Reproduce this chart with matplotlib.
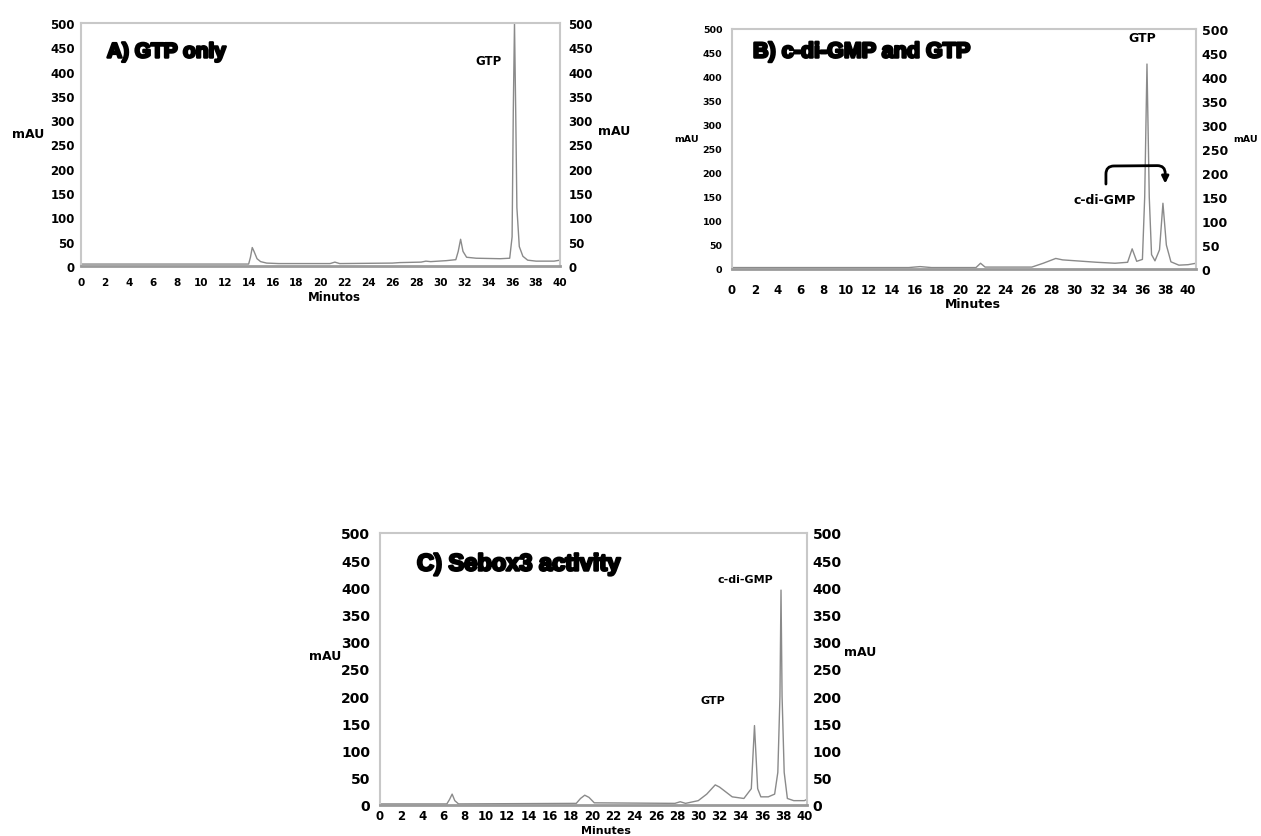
# HPLC traces for the Sebox3 diguanylate cyclase assay (three panels)

import matplotlib.pyplot as plt
import matplotlib.patheffects as pe

# Panel A: GTP only
time_a = [0, 14.0, 14.15, 14.3, 14.45, 14.7, 15.0, 15.5, 16.5, 20.8, 21.2, 21.6,
          26.0, 26.6, 28.4, 28.8, 29.2, 30.5, 31.3, 31.5, 31.7, 31.9, 32.2, 33.0,
          35.0, 35.8, 36.0, 36.1, 36.2, 36.3, 36.4, 36.6, 36.9, 37.3, 38.0, 39.5, 40.0]
mau_a = [4, 4, 18, 38, 30, 15, 9, 6, 5, 5, 8, 5,
         6, 7, 8, 10, 9, 11, 13, 30, 55, 30, 18, 16,
         15, 16, 60, 320, 500, 320, 120, 40, 20, 12, 10, 10, 12]

# Panel B: c-di-GMP and GTP standards
time_b = [0, 15.5, 16.5, 17.5, 21.4, 21.8, 22.2, 26.3, 27.3, 28.4, 29.0, 30.2,
          32.0, 33.6, 34.7, 35.1, 35.5, 36.0, 36.2, 36.4, 36.6, 36.8, 37.1, 37.5,
          37.8, 38.1, 38.5, 39.2, 40.0, 40.7]
mau_b = [3, 3, 5, 3, 3, 12, 4, 4, 12, 22, 19, 17,
         14, 12, 14, 42, 16, 20, 150, 427, 150, 30, 17, 40,
         137, 50, 15, 8, 9, 12]

# Panel C: Sebox3 reaction
time_c = [0, 6.3, 6.55, 6.8, 7.05, 7.4, 18.5, 18.9, 19.3, 19.7, 20.2, 27.8,
          28.3, 28.8, 30.0, 30.8, 31.6, 32.0, 33.2, 34.3, 35.0, 35.3, 35.6, 35.9,
          36.6, 37.2, 37.5, 37.7, 37.8, 37.9, 38.1, 38.4, 39.0, 40.0, 40.2]
mau_c = [2, 2, 10, 20, 8, 2, 3, 12, 18, 14, 4, 3,
         6, 3, 8, 20, 37, 33, 15, 12, 30, 146, 30, 15,
         15, 20, 60, 200, 395, 200, 60, 12, 8, 8, 10]

x_ticks = list(range(0, 41, 2))
y_ticks = list(range(0, 501, 50))

W, H = 1261, 837


def px(x, y):
    return x / W, 1 - y / H


def make_panel(fig, box, t, v, xmax, lsize, rsize, xsize, lpad, rpad, xpad):
    left, top, right, bottom = box
    ax = fig.add_axes([left / W, 1 - bottom / H, (right - left) / W, (bottom - top) / H])
    ax.plot(t, v, color='#8a8a8a', lw=1.0)
    ax.set_xlim(0, xmax)
    ax.set_ylim(0, 500)
    ax.set_xticks(x_ticks)
    ax.set_yticks(y_ticks)
    for s in ax.spines.values():
        s.set_color('#c8c8c8')
        s.set_linewidth(1.5)
    ax.spines['bottom'].set_color('#9a9a9a')
    ax.spines['bottom'].set_linewidth(2)
    ax.tick_params(axis='both', length=0)
    ax.tick_params(axis='y', pad=lpad, labelsize=lsize)
    ax.tick_params(axis='x', pad=xpad, labelsize=xsize)
    for lab in ax.get_yticklabels() + ax.get_xticklabels():
        lab.set_fontweight('bold')

    # right-hand copy of the mAU scale
    ax2 = ax.twinx()
    ax2.set_ylim(0, 500)
    ax2.set_yticks(y_ticks)
    ax2.tick_params(axis='y', length=0, pad=rpad, labelsize=rsize)
    for lab in ax2.get_yticklabels():
        lab.set_fontweight('bold')
    for s in ax2.spines.values():
        s.set_visible(False)
    return ax


fig = plt.figure(figsize=(12.61, 8.37), dpi=100)
plt.rcParams['font.family'] = ['DejaVu Sans']

heavy = [pe.withStroke(linewidth=1.8, foreground='black')]
title_font = ['Liberation Sans', 'DejaVu Sans']

# ---- A) GTP only
ax_a = make_panel(fig, (81, 24, 560, 267), time_a, mau_a, 40, 8.5, 8.5, 7.5, 4.5, 6, 8)
fig.text(*px(107, 53), 'A) GTP only', family=title_font, weight='bold', fontsize=15,
         va='center', ha='left', path_effects=heavy)
ax_a.text(34.0, 422, 'GTP', fontsize=8.5, weight='bold', ha='center', va='center')
fig.text(*px(28, 135), 'mAU', fontsize=9, weight='bold', ha='center', va='center')
fig.text(*px(614, 132), 'mAU', fontsize=9, weight='bold', ha='center', va='center')
fig.text(*px(334, 298), 'Minutos', fontsize=8.5, weight='bold', ha='center', va='center')

# ---- B) c-di-GMP and GTP
ax_b = make_panel(fig, (732, 30, 1196, 270), time_b, mau_b, 40.7, 6.8, 9, 8.5, 7, 4, 10)
fig.text(*px(753, 53), 'B) c-di-GMP and GTP', family=title_font, weight='bold', fontsize=15.5,
         va='center', ha='left', path_effects=heavy)
ax_b.text(36.0, 482, 'GTP', fontsize=9, weight='bold', ha='center', va='center')
ax_b.text(32.7, 145, 'c-di-GMP', fontsize=9, weight='bold', ha='center', va='center')
ax_b.annotate('', xy=(38.0, 178), xytext=(32.8, 177),
              arrowprops=dict(arrowstyle='-|>', color='black', lw=2, mutation_scale=10,
                              shrinkA=0, shrinkB=0,
                              connectionstyle='arc,angleA=90,angleB=90,armA=18,armB=18,rad=8'))
fig.text(*px(687, 139), 'mAU', fontsize=6.8, weight='bold', ha='center', va='center')
fig.text(*px(1246, 139), 'mAU', fontsize=6.8, weight='bold', ha='center', va='center')
fig.text(*px(973, 305), 'Minutes', fontsize=9, weight='bold', ha='center', va='center')

# ---- C) Sebox3 activity
ax_c = make_panel(fig, (380, 534, 807, 806), time_c, mau_c, 40.25, 10, 10, 8.5, 7, 4, 3)
fig.text(*px(417, 565), 'C) Sebox3 activity', family=title_font, weight='bold', fontsize=17,
         va='center', ha='left', path_effects=heavy)
ax_c.text(34.4, 415, 'c-di-GMP', fontsize=8, weight='bold', ha='center', va='center')
ax_c.text(31.4, 193, 'GTP', fontsize=8, weight='bold', ha='center', va='center')
fig.text(*px(325, 657), 'mAU', fontsize=9, weight='bold', ha='center', va='center')
fig.text(*px(860, 653), 'mAU', fontsize=9, weight='bold', ha='center', va='center')
fig.text(*px(606, 831), 'Minutes', fontsize=8, weight='bold', ha='center', va='center')

fig.savefig('out.png', dpi=100, facecolor='white')
